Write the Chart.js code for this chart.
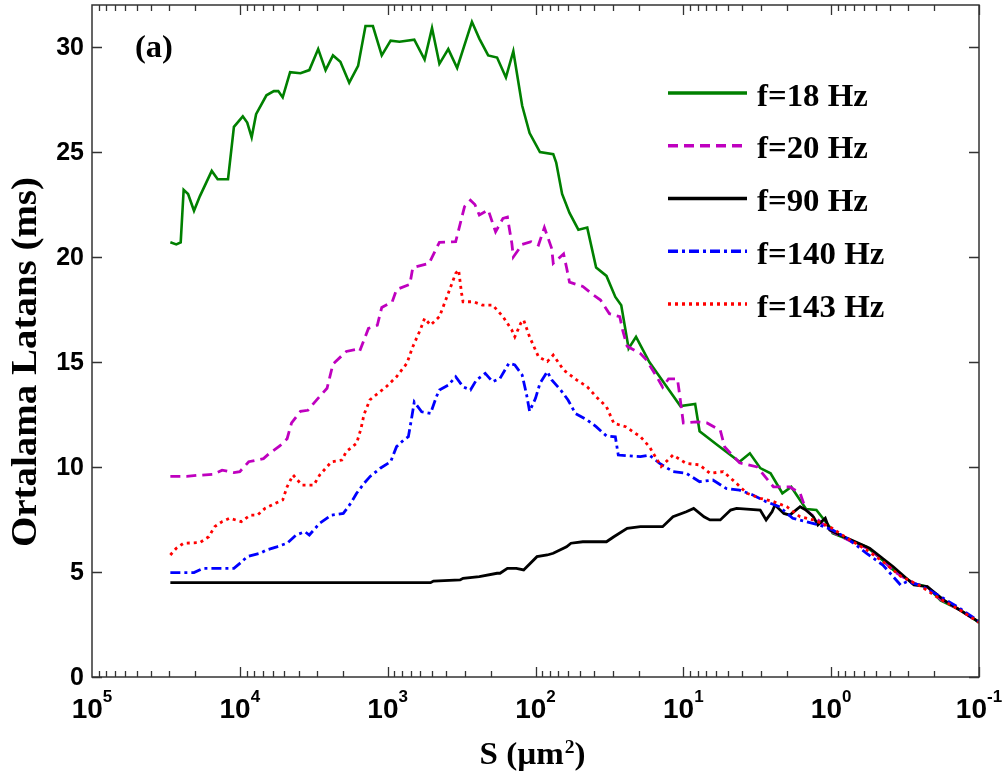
<!DOCTYPE html>
<html>
<head>
<meta charset="utf-8">
<script src="https://cdn.jsdelivr.net/npm/chart.js@4.4.1/dist/chart.umd.min.js"></script>
<style>
    body { margin: 0; background: #fff; }
    canvas { display: block; }
</style>
</head>
<body>
<canvas id="latansChart" width="1003" height="780"></canvas>
<script>
// datos: x = log10(S), y = latencia media (ms)

const f18LogS = [4.47, 4.43, 4.40, 4.38, 4.35, 4.31, 4.27, 4.19, 4.15, 4.08,
    4.04, 3.98, 3.95, 3.92, 3.89, 3.82, 3.77, 3.74, 3.71, 3.66,
    3.59, 3.53, 3.47, 3.42, 3.37, 3.32, 3.26, 3.20, 3.15, 3.10,
    3.04, 2.98, 2.92, 2.82, 2.75, 2.70, 2.65, 2.59, 2.53, 2.43,
    2.38, 2.32, 2.26, 2.20, 2.15, 2.12, 2.09, 2.04, 1.97, 1.88,
    1.86, 1.82, 1.77, 1.71, 1.65, 1.59, 1.52, 1.46, 1.42, 1.37,
    1.32, 1.23, 1.11, 1.02, 0.92, 0.89, 0.77, 0.62, 0.55, 0.48,
    0.41, 0.33, 0.27, 0.17, 0.10, 0.01, -0.01, -0.15, -0.24, -0.35,
    -0.42, -0.56, -0.65, -0.74, -0.87, -1.0];
const f18Lat = [20.7, 20.6, 20.7, 23.2, 23.0, 22.2, 22.9, 24.1, 23.7, 23.7,
    26.2, 26.7, 26.4, 25.7, 26.8, 27.7, 27.9, 27.9, 27.6, 28.8,
    28.75, 28.9, 29.9, 28.9, 29.6, 29.3, 28.3, 29.1, 31.0, 31.0,
    29.6, 30.3, 30.25, 30.35, 29.4, 30.9, 29.2, 29.9, 29.0, 31.2,
    30.4, 29.6, 29.5, 28.55, 29.8, 28.5, 27.2, 25.9, 25.0, 24.9,
    24.5, 23.0, 22.1, 21.3, 21.4, 19.5, 19.1, 18.1, 17.7, 15.65,
    16.2, 15.0, 13.8, 12.9, 13.0, 11.7, 11.05, 10.25, 10.65, 9.95,
    9.7, 8.75, 9.05, 8.0, 7.95, 7.15, 6.85, 6.45, 6.2, 5.55,
    5.1, 4.45, 4.3, 3.65, 3.2, 2.6];

const f20LogS = [4.47, 4.36, 4.29, 4.18, 4.12, 4.04, 4.00, 3.94, 3.84, 3.80,
    3.73, 3.68, 3.65, 3.59, 3.54, 3.48, 3.41, 3.37, 3.28, 3.21,
    3.19, 3.13, 3.07, 3.04, 2.97, 2.94, 2.85, 2.83, 2.72, 2.65,
    2.54, 2.48, 2.44, 2.41, 2.38, 2.32, 2.27, 2.22, 2.19, 2.16,
    2.15, 2.09, 2.03, 1.98, 1.94, 1.89, 1.88, 1.81, 1.79, 1.77,
    1.68, 1.61, 1.56, 1.50, 1.43, 1.41, 1.38, 1.29, 1.25, 1.18,
    1.14, 1.10, 1.04, 1.03, 1.00, 0.91, 0.84, 0.75, 0.72, 0.62,
    0.50, 0.39, 0.28, 0.21, 0.17, 0.04, -0.01, -0.15, -0.24, -0.35,
    -0.42, -0.56, -0.65, -0.74, -0.87, -1.0];
const f20Lat = [9.55, 9.55, 9.6, 9.65, 9.85, 9.73, 9.78, 10.25, 10.4, 10.65,
    11.0, 11.35, 12.1, 12.65, 12.7, 13.2, 13.75, 14.9, 15.5, 15.6,
    15.5, 16.6, 16.75, 17.6, 17.85, 18.45, 18.7, 19.5, 19.7, 20.7,
    20.73, 22.4, 22.7, 22.5, 22.0, 22.24, 21.2, 21.84, 21.9, 20.65,
    20.0, 20.6, 20.73, 20.57, 21.4, 20.4, 19.7, 20.15, 19.5, 18.8,
    18.6, 18.2, 17.95, 17.3, 17.16, 16.5, 15.75, 15.4, 15.1, 14.3,
    13.8, 14.2, 14.2, 13.7, 12.1, 12.15, 12.1, 11.75, 10.95, 10.2,
    10.0, 9.05, 9.05, 8.75, 7.95, 7.2, 6.9, 6.4, 6.15, 5.6,
    5.05, 4.45, 4.3, 3.7, 3.2, 2.6];

const f90LogS = [4.47, 2.71, 2.69, 2.51, 2.49, 2.38, 2.26, 2.24, 2.19, 2.13,
    2.08, 1.99, 1.92, 1.88, 1.79, 1.76, 1.68, 1.52, 1.47, 1.38,
    1.29, 1.14, 1.07, 0.98, 0.93, 0.86, 0.82, 0.75, 0.68, 0.64,
    0.48, 0.44, 0.40, 0.38, 0.32, 0.28, 0.21, 0.17, 0.12, 0.09,
    0.04, 0.01, -0.11, -0.26, -0.42, -0.56, -0.65, -0.76, -0.87, -0.98,
    -1.0];
const f90Lat = [4.49, 4.49, 4.57, 4.62, 4.70, 4.78, 4.94, 4.94, 5.17, 5.17,
    5.10, 5.73, 5.81, 5.89, 6.2, 6.37, 6.44, 6.44, 6.68, 7.08,
    7.16, 7.16, 7.63, 7.87, 8.03, 7.63, 7.48, 7.48, 7.95, 8.03,
    7.95, 7.48, 7.87, 8.19, 7.79, 7.71, 8.11, 7.95, 7.63, 7.24,
    7.56, 7.0, 6.6, 6.13, 5.25, 4.38, 4.30, 3.67, 3.19, 2.71,
    2.6];

const f140LogS = [4.47, 4.31, 4.25, 4.04, 4.00, 3.95, 3.86, 3.82, 3.75, 3.68,
    3.62, 3.56, 3.53, 3.46, 3.38, 3.30, 3.25, 3.21, 3.16, 3.12,
    3.05, 2.98, 2.94, 2.89, 2.86, 2.84, 2.82, 2.77, 2.71, 2.67,
    2.65, 2.59, 2.54, 2.49, 2.44, 2.40, 2.34, 2.29, 2.24, 2.18,
    2.14, 2.09, 2.06, 2.04, 2.00, 1.97, 1.92, 1.89, 1.83, 1.78,
    1.73, 1.65, 1.59, 1.52, 1.46, 1.44, 1.29, 1.23, 1.16, 1.07,
    0.98, 0.89, 0.80, 0.71, 0.62, 0.53, 0.44, 0.35, 0.26, 0.17,
    0.08, -0.01, -0.11, -0.24, -0.35, -0.47, -0.51, -0.60, -0.74, -0.87,
    -1.0];
const f140Lat = [4.97, 4.97, 5.17, 5.17, 5.41, 5.73, 5.9, 6.05, 6.2, 6.37,
    6.76, 6.92, 6.76, 7.32, 7.71, 7.79, 8.27, 8.75, 9.22, 9.54,
    9.94, 10.25, 10.97, 11.3, 11.44, 12.24, 13.1, 12.63, 12.55, 13.35,
    13.67, 13.9, 14.3, 13.82, 13.67, 14.14, 14.46, 14.06, 14.22, 14.94,
    14.86, 14.38, 13.43, 12.65, 13.27, 13.98, 14.54, 14.14, 13.67, 13.19,
    12.55, 12.24, 11.92, 11.48, 11.44, 10.57, 10.49, 10.57, 10.17, 9.78,
    9.7, 9.3, 9.38, 8.98, 8.9, 8.67, 8.35, 8.11, 7.56, 7.40,
    7.24, 7.0, 6.6, 5.89, 5.33, 4.38, 4.54, 4.38, 3.83, 3.27,
    2.65];

const f143LogS = [4.47, 4.43, 4.38, 4.27, 4.21, 4.17, 4.12, 4.07, 3.99, 3.93,
    3.88, 3.83, 3.76, 3.71, 3.68, 3.64, 3.58, 3.50, 3.46, 3.38,
    3.31, 3.28, 3.21, 3.18, 3.16, 3.12, 3.01, 2.94, 2.87, 2.83,
    2.78, 2.75, 2.71, 2.65, 2.59, 2.54, 2.52, 2.50, 2.49, 2.42,
    2.36, 2.29, 2.22, 2.16, 2.14, 2.10, 2.08, 2.04, 1.98, 1.92,
    1.88, 1.81, 1.72, 1.65, 1.59, 1.52, 1.47, 1.39, 1.29, 1.23,
    1.15, 1.07, 0.98, 0.89, 0.82, 0.73, 0.64, 0.57, 0.48, 0.39,
    0.30, 0.21, 0.12, 0.01, -0.11, -0.24, -0.35, -0.47, -0.60, -0.74,
    -0.87, -1.0];
const f143Lat = [5.81, 6.13, 6.37, 6.40, 6.68, 7.16, 7.40, 7.56, 7.40, 7.71,
    7.71, 8.03, 8.27, 8.43, 9.06, 9.62, 9.14, 9.14, 9.62, 10.25,
    10.33, 10.73, 11.13, 11.84, 12.5, 13.2, 13.82, 14.3, 14.94, 15.73,
    16.52, 17.08, 16.76, 17.16, 18.27, 19.22, 19.38, 18.27, 17.87, 17.87,
    17.71, 17.71, 17.16, 16.52, 16.2, 16.84, 17.0, 16.2, 15.25, 15.02,
    15.33, 14.62, 14.14, 13.82, 13.35, 12.87, 12.08, 11.92, 11.44, 10.97,
    10.02, 10.57, 10.17, 10.1, 9.70, 9.78, 9.22, 8.75, 8.51, 8.35,
    8.11, 7.63, 7.48, 7.16, 6.6, 6.05, 5.5, 4.8, 4.35, 3.7,
    3.2, 2.6];

const yTickValues = [0, 5, 10, 15, 20, 25, 30];
const xTickExponents = [5, 4, 3, 2, 1, 0, -1];

function toPoints(logS, lat) {
    return logS.map((l, i) => ({ x: Math.pow(10, l), y: lat[i] }));
}

// js de los textos, ticks y leyenda (dibujados a mano)

function stretchText(ctx, text, x, y, sx) {
    ctx.save();
    ctx.translate(x, y);
    ctx.scale(sx, 1);
    ctx.fillText(text, 0, 0);
    ctx.restore();
}

const decoraciones = {
    id: 'decoraciones',
    afterDraw(chart) {
        const { ctx, chartArea: a, scales: { x, y } } = chart;
        ctx.save();

        // marco
        ctx.strokeStyle = '#333';
        ctx.lineWidth = 1.5;
        ctx.strokeRect(a.left, a.top, a.right - a.left, a.bottom - a.top);

        // ticks del eje x (hacia adentro, arriba y abajo)
        ctx.lineWidth = 1.3;
        ctx.beginPath();
        for (let e = -1; e <= 4; e++) {
            for (let m = 1; m <= 9; m++) {
                const px = Math.round(x.getPixelForValue(m * Math.pow(10, e))) + 0.5;
                const len = m === 1 ? 10 : 6;
                ctx.moveTo(px, a.bottom);
                ctx.lineTo(px, a.bottom - len);
                ctx.moveTo(px, a.top);
                ctx.lineTo(px, a.top + len);
            }
        }
        // ticks del eje y
        yTickValues.forEach(v => {
            const py = Math.round(y.getPixelForValue(v)) + 0.5;
            ctx.moveTo(a.left, py);
            ctx.lineTo(a.left + 10, py);
            ctx.moveTo(a.right, py);
            ctx.lineTo(a.right - 10, py);
        });
        ctx.stroke();

        // etiquetas y
        ctx.fillStyle = '#000';
        ctx.font = 'bold 25px "Liberation Sans", Arial, sans-serif';
        ctx.textAlign = 'right';
        ctx.textBaseline = 'middle';
        yTickValues.forEach(v => {
            ctx.fillText(String(v), a.left - 8, y.getPixelForValue(v) + 1);
        });

        // etiquetas x: 10 con exponente
        ctx.textAlign = 'left';
        ctx.textBaseline = 'alphabetic';
        xTickExponents.forEach(exp => {
            const px = x.getPixelForValue(Math.pow(10, exp));
            ctx.font = 'bold 28px "Liberation Sans", Arial, sans-serif';
            const wb = ctx.measureText('10').width;
            ctx.font = 'bold 17px "Liberation Sans", Arial, sans-serif';
            const we = ctx.measureText(String(exp)).width;
            const start = px - (wb + we) / 2;
            ctx.font = 'bold 28px "Liberation Sans", Arial, sans-serif';
            ctx.fillText('10', start, 718);
            ctx.font = 'bold 17px "Liberation Sans", Arial, sans-serif';
            ctx.fillText(String(exp), start + wb, 702);
        });

        // titulo eje x: S (µm²)
        const serif = '"Liberation Serif", "Times New Roman", serif';
        const big = 'bold 32px ' + serif;
        const small = 'bold 19px ' + serif;
        ctx.font = big;
        const w1 = ctx.measureText('S (µm').width;
        const w3 = ctx.measureText(')').width;
        ctx.font = small;
        const w2 = ctx.measureText('2').width;
        const targetW = 105;
        const sx = targetW / (w1 + w2 + w3);
        let cx = 532 - targetW / 2;
        ctx.font = big;
        stretchText(ctx, 'S (µm', cx, 764, sx);
        cx += w1 * sx;
        ctx.font = small;
        stretchText(ctx, '2', cx + 1, 753, sx);
        cx += w2 * sx + 1;
        ctx.font = big;
        stretchText(ctx, ')', cx, 764, sx);

        // titulo eje y
        ctx.save();
        ctx.translate(36, 362);
        ctx.rotate(-Math.PI / 2);
        ctx.font = 'bold 35px ' + serif;
        ctx.textAlign = 'center';
        const title = 'Ortalama Latans (ms)';
        const sy = 370 / ctx.measureText(title).width;
        ctx.scale(sy, 1);
        ctx.fillText(title, 0, 0);
        ctx.restore();

        // (a)
        ctx.font = 'bold 31px ' + serif;
        stretchText(ctx, '(a)', 135, 57, 1.05);

        // leyenda
        chart.data.datasets.forEach((ds, i) => {
            const ly = 93 + i * 52.75;
            ctx.save();
            ctx.strokeStyle = ds.borderColor;
            ctx.lineWidth = 3.5;
            ctx.setLineDash(ds.borderDash || []);
            ctx.beginPath();
            ctx.moveTo(668, ly);
            ctx.lineTo(747, ly);
            ctx.stroke();
            ctx.restore();
            ctx.fillStyle = '#000';
            ctx.font = 'bold 31px ' + serif;
            stretchText(ctx, ds.label, 757, ly + 12.5, 1.06);
        });

        ctx.restore();
    }
};

const ctx = document.getElementById('latansChart').getContext('2d');
new Chart(ctx, {
    type: 'line',
    data: {
        datasets: [
            {
                label: 'f=18 Hz',
                data: toPoints(f18LogS, f18Lat),
                borderColor: '#008000',
                borderWidth: 2.6,
                order: 5
            },
            {
                label: 'f=20 Hz',
                data: toPoints(f20LogS, f20Lat),
                borderColor: '#bf00bf',
                borderWidth: 2.8,
                borderDash: [10, 6],
                order: 4
            },
            {
                label: 'f=90 Hz',
                data: toPoints(f90LogS, f90Lat),
                borderColor: '#000000',
                borderWidth: 2.8,
                order: 3
            },
            {
                label: 'f=140 Hz',
                data: toPoints(f140LogS, f140Lat),
                borderColor: '#0000ff',
                borderWidth: 2.8,
                borderDash: [10, 4, 3, 4],
                order: 2
            },
            {
                label: 'f=143 Hz',
                data: toPoints(f143LogS, f143Lat),
                borderColor: '#ff0000',
                borderWidth: 2.8,
                borderDash: [3, 4],
                order: 1
            }
        ]
    },
    options: {
        responsive: false,
        devicePixelRatio: 1,
        animation: false,
        layout: {
            padding: { left: 92, top: 5, right: 24, bottom: 103 }
        },
        elements: {
            point: { radius: 0 },
            line: { tension: 0, borderCapStyle: 'butt', fill: false }
        },
        plugins: {
            legend: { display: false },
            tooltip: { enabled: false }
        },
        scales: {
            x: {
                type: 'logarithmic',
                reverse: true,
                min: 0.1,
                max: 100000,
                display: false
            },
            y: {
                type: 'linear',
                min: 0,
                max: 32,
                display: false
            }
        }
    },
    plugins: [decoraciones]
});
</script>
</body>
</html>
